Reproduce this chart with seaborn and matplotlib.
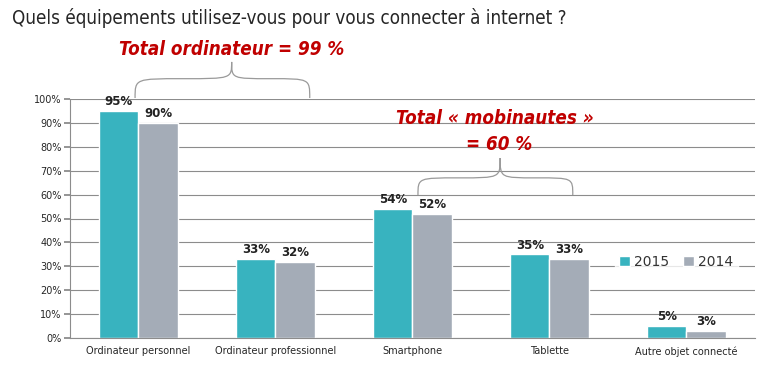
import pandas as pd
import matplotlib.pyplot as plt
import seaborn as sns
from matplotlib.path import Path
from matplotlib.patches import PathPatch

categories = ["Ordinateur personnel", "Ordinateur professionnel", "Smartphone", "Tablette", "Autre objet connecté"]
years = ["2015", "2014"]
values_2015 = [95, 33, 54, 35, 5]
values_2014 = [90, 32, 52, 33, 3]
colors = ["#38B3BF", "#A4ACB7"]

df = pd.DataFrame({
    "categorie": categories * 2,
    "annee": [years[0]] * len(categories) + [years[1]] * len(categories),
    "valeur": values_2015 + values_2014,
})

sns.set_theme(style="white")
plt.rcParams['font.family'] = ['DejaVu Sans']


def brace(ax, x0, x1, xt, y0, yp, yt):
    # accolade horizontale, pointe vers le haut
    verts = [(x0, y0), (x0, yp), (x0, yp), ((x0 + xt) / 2, yp),
             (xt, yp), (xt, yp), (xt, yt),
             (xt, yp), (xt, yp), ((x1 + xt) / 2, yp),
             (x1, yp), (x1, yp), (x1, y0)]
    codes = [Path.MOVETO] + [Path.CURVE4] * 12
    ax.add_patch(PathPatch(Path(verts, codes), fill=False, edgecolor="#9a9a9a",
                           lw=0.9, clip_on=False))


fig = plt.figure(figsize=(7.7, 3.68), dpi=100)
ax = fig.add_axes([0.0909, 0.0815, 0.8896, 0.6495])

sns.barplot(data=df, x="categorie", y="valeur", hue="annee", hue_order=years,
            palette=colors, width=0.57, saturation=1, ax=ax, legend=True)

for cont in ax.containers:
    ax.bar_label(cont, labels=[f"{int(b.get_height())}%" for b in cont],
                 padding=2, fontsize=8.5, fontweight="bold", color="#222222")

ax.set_ylim(0, 100)
ax.set_xlim(-0.5, len(categories) - 0.5)
ax.set_yticks(range(0, 101, 10))
ax.set_yticklabels([f"{v}%" for v in range(0, 101, 10)], fontsize=7)
ax.set_xticks(range(len(categories)))
ax.set_xticklabels(categories, fontsize=7)
ax.set_xticks([i - 0.5 for i in range(len(categories) + 1)], minor=True)
ax.tick_params(axis="x", which="major", length=0, pad=6)
ax.tick_params(axis="x", which="minor", length=4, color="#888888", direction="out")
ax.tick_params(axis="y", length=4, color="#888888", direction="out", left=True, pad=2)
ax.set_xlabel("")
ax.set_ylabel("")
ax.yaxis.grid(True, color="#8c8c8c", lw=0.8)
ax.set_axisbelow(True)
for s in ["top", "right"]:
    ax.spines[s].set_visible(False)
for s in ["left", "bottom"]:
    ax.spines[s].set_color("#8c8c8c")
    ax.spines[s].set_linewidth(0.8)

leg = ax.legend(loc="center", bbox_to_anchor=(0.885, 0.318), ncol=2, frameon=True,
                handlelength=0.8, handleheight=0.8, handletextpad=0.3,
                columnspacing=1.0, borderpad=0.3, fontsize=10)
leg.get_frame().set_facecolor("white")
leg.get_frame().set_edgecolor("white")
for t in leg.get_texts():
    t.set_color("#333333")

fig.text(0.016, 0.95, "Quels équipements utilisez-vous pour vous connecter à internet ?",
         fontsize=13.5, color="#262626", va="center", ha="left",
         family="DejaVu Sans", fontstretch="condensed")

red = "#C00000"
ax.text(0.68, 120.5, "Total ordinateur = 99 %", color=red, fontsize=13.5,
        fontweight="bold", fontstyle="italic", ha="center", va="center",
        clip_on=False, fontstretch="condensed")
brace(ax, -0.025, 1.25, 0.68, 100.4, 108.5, 115.5)

ax.text(2.6, 92, "Total « mobinautes »", color=red, fontsize=13.5,
        fontweight="bold", fontstyle="italic", ha="center", va="center",
        fontstretch="condensed")
ax.text(2.63, 80.8, "= 60 %", color=red, fontsize=13.5,
        fontweight="bold", fontstyle="italic", ha="center", va="center",
        fontstretch="condensed")
brace(ax, 2.04, 3.17, 2.64, 59.8, 67.0, 75.3)

fig.savefig("out.png", dpi=100)
